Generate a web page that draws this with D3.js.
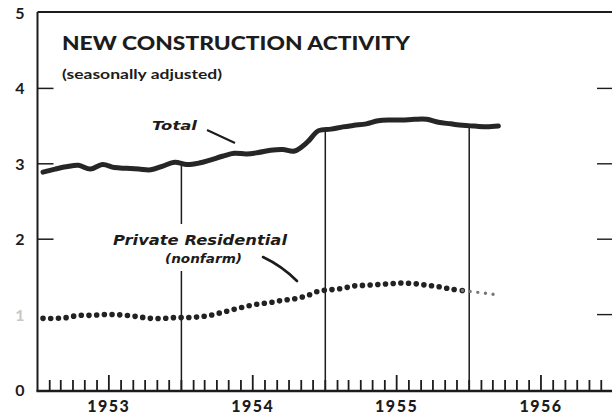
<!DOCTYPE html>
<html><head><meta charset="utf-8">
<script src="https://cdn.jsdelivr.net/npm/d3@7"></script>
<style>html,body{margin:0;padding:0;background:#fff;}svg{display:block;}</style>
</head><body>
<svg id="c" width="612" height="415"></svg>
<script>
// ---- data (monthly, Jan 1953 – Mar 1956, seasonally adjusted) ----
const months = d3.range(39).map(i => new Date(Date.UTC(1953, i, 15)));
const totalValues = [2.89,2.93,2.96,2.98,2.93,2.99,2.95,2.94,2.93,2.92,2.97,3.02,
                     2.99,3.01,3.05,3.10,3.14,3.13,3.15,3.18,3.19,3.17,3.28,3.44,
                     3.46,3.49,3.51,3.53,3.57,3.58,3.58,3.59,3.59,3.55,3.53,3.51,
                     3.50,3.49,3.50];
const residentialValues = [0.95,0.95,0.96,0.99,0.99,1.00,1.00,0.99,0.97,0.95,0.95,0.96,
                           0.96,0.97,0.99,1.03,1.07,1.11,1.14,1.16,1.19,1.21,1.25,1.31,
                           1.33,1.35,1.38,1.39,1.40,1.41,1.42,1.41,1.39,1.37,1.34,1.32,
                           1.30,1.28,1.26];
const yTickValues = [0,1,2,3,4,5];
const yearLabels = ["1953","1954","1955","1956"];
const titleText = "NEW CONSTRUCTION ACTIVITY";
const subtitleText = "(seasonally adjusted)";
const totalLabel = "Total";
const resLabel1 = "Private Residential";
const resLabel2 = "(nonfarm)";

const svg = d3.select("#c");
const ink = "#1c1c1c";

const x = d3.scaleUtc().domain([new Date(Date.UTC(1953,0,1)), new Date(Date.UTC(1957,0,1))]).range([37.5, 613.5]);
const y = d3.scaleLinear().domain([0,5]).range([390, 13]);

// frame: left axis, top line, baseline
svg.append("line").attr("x1",x.range()[0]).attr("x2",x.range()[0]).attr("y1",y(5)-1).attr("y2",y(0)+1.5)
  .attr("stroke",ink).attr("stroke-width",2);
svg.append("line").attr("x1",x.range()[0]).attr("x2",612).attr("y1",y(5)-1).attr("y2",y(5)-1)
  .attr("stroke",ink).attr("stroke-width",1.8);
svg.append("line").attr("x1",x.range()[0]-1).attr("x2",612).attr("y1",y(0)+1).attr("y2",y(0)+1)
  .attr("stroke",ink).attr("stroke-width",2.6);

// month ticks pointing up
const monthTicks = x.ticks(d3.utcMonth.every(1)).filter(d => d > x.domain()[0] && d < x.domain()[1]);
svg.append("g").selectAll("line").data(monthTicks).join("line")
  .attr("x1", d => x(d)).attr("x2", d => x(d))
  .attr("y1", y(0)+1)
  .attr("y2", d => d.getUTCMonth() === 6 ? y(0)-15 : y(0)-10)
  .attr("stroke", ink).attr("stroke-width", 1.8);

// y ticks left & right
svg.append("g").selectAll("line").data(yTickValues.filter(v => v>=2 && v<=4)).join("line")
  .attr("x1", x.range()[0]).attr("x2", x.range()[0]+16)
  .attr("y1", d => y(d)).attr("y2", d => y(d))
  .attr("stroke", ink).attr("stroke-width", 1.5);
svg.append("g").selectAll("line").data(yTickValues.filter(v => v>=1 && v<=4)).join("line")
  .attr("x1", 597).attr("x2", 612)
  .attr("y1", d => y(d)).attr("y2", d => y(d))
  .attr("stroke", ink).attr("stroke-width", 1.4);

// y labels
svg.append("g").selectAll("text").data(yTickValues).join("text")
  .attr("x", 20).attr("y", d => y(d) + 6)
  .attr("text-anchor","middle")
  .attr("font-family","Lato, 'DejaVu Sans', sans-serif").attr("font-weight",700).attr("font-size",16)
  .attr("fill", d => d === 1 ? "#c8c8c8" : ink)
  .text(d => d);

// year labels
svg.append("g").selectAll("text").data(yearLabels).join("text")
  .attr("x", d => x(new Date(Date.UTC(+d,6,1))))
  .attr("y", 412)
  .attr("text-anchor","middle")
  .attr("font-family","Lato, 'DejaVu Sans', sans-serif").attr("font-weight",900).attr("font-size",16)
  .attr("letter-spacing",1.5)
  .attr("fill", ink)
  .text(d => d);

// vertical year-boundary lines up to the Total line
const totalAt = d => {
  const i = d3.bisector(m => m).left(months, d);
  const t = (d - months[i-1]) / (months[i] - months[i-1]);
  return totalValues[i-1] + t*(totalValues[i]-totalValues[i-1]);
};
const boundaries = [1954,1955,1956].map(yr => new Date(Date.UTC(yr,0,1)));
svg.append("g").selectAll("line").data(boundaries).join("line")
  .attr("x1", d => x(d)).attr("x2", d => x(d))
  .attr("y1", y(0)).attr("y2", d => y(totalAt(d)))
  .attr("stroke", ink).attr("stroke-width", 1.5);

// white knockout behind residential label
svg.append("rect").attr("x",110).attr("y",224).attr("width",180).attr("height",47).attr("fill","#fff");

// Total line
const lineGen = d3.line().x((d,i) => x(months[i])).y(d => y(d)).curve(d3.curveCatmullRom);
svg.append("path").datum(totalValues).attr("d", lineGen)
  .attr("fill","none").attr("stroke","#262626").attr("stroke-width",5)
  .attr("stroke-linecap","round").attr("stroke-linejoin","round");

// Private residential dotted line
const mainRes = residentialValues.slice(0, 36);
const lineGenRes = d3.line().x(d => x(d[0])).y(d => y(d[1])).curve(d3.curveCatmullRom);
svg.append("path").datum(mainRes.map((v,i) => [months[i], v])).attr("d", lineGenRes)
  .attr("fill","none").attr("stroke","#222").attr("stroke-width",5.6)
  .attr("stroke-linecap","round").attr("stroke-dasharray","0 7.7");
svg.append("path").datum(residentialValues.slice(35).map((v,i) => [months[i+35], v])).attr("d", lineGenRes)
  .attr("fill","none").attr("stroke","#777").attr("stroke-width",3.4)
  .attr("stroke-linecap","round").attr("stroke-dasharray","0 7.7");

// titles
svg.append("text").attr("x",62).attr("y",50)
  .attr("font-family","Lato, 'DejaVu Sans', sans-serif").attr("font-weight",900).attr("font-size",19.5)
  .attr("textLength",348).attr("lengthAdjust","spacingAndGlyphs")
  .attr("fill", ink).text(titleText);
svg.append("text").attr("x",62).attr("y",79)
  .attr("font-family","Lato, 'DejaVu Sans', sans-serif").attr("font-weight",700).attr("font-size",13)
  .attr("textLength",160).attr("lengthAdjust","spacingAndGlyphs")
  .attr("fill", ink).text(subtitleText);

// series labels
const lblFont = "'DejaVu Sans', Lato, sans-serif";
svg.append("text").attr("x",152).attr("y",130)
  .attr("font-family",lblFont).attr("font-style","italic").attr("font-weight",700).attr("font-size",13)
  .attr("textLength",45).attr("lengthAdjust","spacingAndGlyphs")
  .attr("fill", ink).text(totalLabel);
svg.append("line").attr("x1",207).attr("y1",130).attr("x2",235).attr("y2",143)
  .attr("stroke",ink).attr("stroke-width",2);

svg.append("text").attr("x",113).attr("y",245)
  .attr("font-family",lblFont).attr("font-style","italic").attr("font-weight",700).attr("font-size",14)
  .attr("textLength",174).attr("lengthAdjust","spacingAndGlyphs")
  .attr("fill", ink).text(resLabel1);
svg.append("text").attr("x",165).attr("y",263)
  .attr("font-family",lblFont).attr("font-style","italic").attr("font-weight",700).attr("font-size",12)
  .attr("textLength",77).attr("lengthAdjust","spacingAndGlyphs")
  .attr("fill", ink).text(resLabel2);
svg.append("path").attr("d","M263,257 Q282,266 297,281")
  .attr("fill","none").attr("stroke",ink).attr("stroke-width",2.6).attr("stroke-linecap","round");
</script>
</body></html>
